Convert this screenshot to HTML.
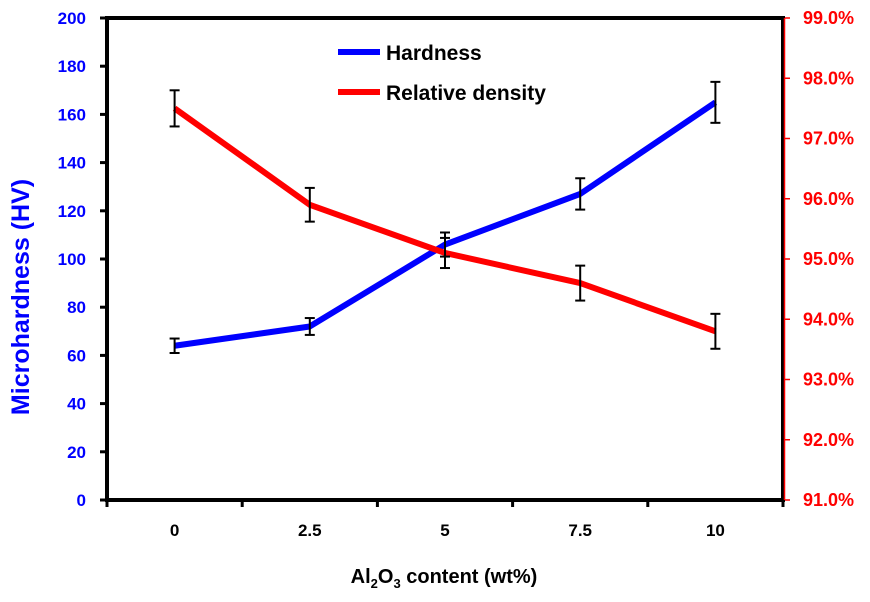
<!DOCTYPE html>
<html><head><meta charset="utf-8"><style>
body{margin:0;background:#fff}
text{font-family:"Liberation Sans",sans-serif;font-weight:bold}
</style></head><body>
<svg id="chart" width="870" height="597" viewBox="0 0 870 597" xmlns="http://www.w3.org/2000/svg"></svg>
<script>
const categories=["0","2.5","5","7.5","10"];
const hardness=[64,72,106,127,165];
const hardnessErr=[3,3.5,5,6.5,8.5];
const density=[97.5,95.9,95.1,94.6,93.8];
const densityErr=[0.3,0.28,0.25,0.29,0.29];
const leftTicks=[0,20,40,60,80,100,120,140,160,180,200];
const rightTicks=[91,92,93,94,95,96,97,98,99];

const L=107,R=783,T=18,B=500;
const svg=document.getElementById('chart');
const NS='http://www.w3.org/2000/svg';
function el(tag,attrs,parent){const e=document.createElementNS(NS,tag);for(const k in attrs)e.setAttribute(k,attrs[k]);(parent||svg).appendChild(e);return e;}
const bw=(R-L)/categories.length;
const x=i=>L+bw*(i+0.5);
const yL=v=>B-(v-0)/(200-0)*(B-T);
const yR=v=>B-(v-91)/(99-91)*(B-T);

leftTicks.forEach(v=>{
  const t=el('line',{x1:L-7,x2:L,y1:yL(v),y2:yL(v),stroke:'#000','stroke-width':3});
  
  
  const lb=el('text',{x:L-21,y:yL(v)+6,'text-anchor':'end','font-size':17,fill:'#0000ff'});
  lb.textContent=v;
  
  
});
rightTicks.forEach(v=>{
  const t=el('line',{x1:R,x2:R+7,y1:yR(v),y2:yR(v),stroke:'#ff0000','stroke-width':1.5});
  
  
  const lb=el('text',{x:R+20,y:yR(v)+6,'font-size':18,fill:'#ff0000'});
  lb.textContent=v.toFixed(1)+'%';
  
  
});
for(let i=0;i<=categories.length;i++){
  const t=el('line',{x1:L+bw*i,x2:L+bw*i,y1:B,y2:B+7,stroke:'#000','stroke-width':3});
  
  
}
categories.forEach((c,i)=>{
  const lb=el('text',{x:x(i),y:B+36,'text-anchor':'middle','font-size':17,fill:'#000'});
  lb.textContent=c;
  
  
});
const fr=el('rect',{x:L,y:T,width:R-L,height:B-T,fill:'none',stroke:'#000','stroke-width':4});


const ra=el('line',{x1:R+1.5,x2:R+1.5,y1:T,y2:B,stroke:'#ff0000','stroke-width':1.5});



const hl=el('polyline',{points:hardness.map((v,i)=>x(i)+','+yL(v)).join(' '),fill:'none',stroke:'#0000ff','stroke-width':6,'stroke-linejoin':'round'});


const dl=el('polyline',{points:density.map((v,i)=>x(i)+','+yR(v)).join(' '),fill:'none',stroke:'#ff0000','stroke-width':6,'stroke-linejoin':'round'});



function errbar(cx,y1,y2,name){
  const g=el('g',{stroke:'#000','stroke-width':2});
  
  
  el('line',{x1:cx,x2:cx,y1:y1,y2:y2},g);
  el('line',{x1:cx-5,x2:cx+5,y1:y1,y2:y1},g);
  el('line',{x1:cx-5,x2:cx+5,y1:y2,y2:y2},g);
}
hardness.forEach((v,i)=>errbar(x(i),yL(v-hardnessErr[i]),yL(v+hardnessErr[i]),'hardness-error-bar'));
density.forEach((v,i)=>errbar(x(i),yR(v-densityErr[i]),yR(v+densityErr[i]),'density-error-bar'));
</script>
<svg style="position:absolute;left:0;top:0" width="870" height="597" xmlns="http://www.w3.org/2000/svg">
  <g>
    <line x1="338" x2="380" y1="52" y2="52" stroke="#0000ff" stroke-width="6"/>
    <text x="386" y="60" font-size="21" fill="#000">Hardness</text>
    <line x1="338" x2="380" y1="92" y2="92" stroke="#ff0000" stroke-width="6"/>
    <text x="386" y="100" font-size="21" fill="#000">Relative density</text>
  </g>
  <text transform="translate(29,297) rotate(-90)" text-anchor="middle" font-size="25" fill="#0000ff">Microhardness (HV)</text>
  <text x="444" y="583" text-anchor="middle" font-size="20" fill="#000">Al<tspan font-size="13" dy="5">2</tspan><tspan dy="-5">O</tspan><tspan font-size="13" dy="5">3</tspan><tspan dy="-5"> content (wt%)</tspan></text>
</svg>
</body></html>
